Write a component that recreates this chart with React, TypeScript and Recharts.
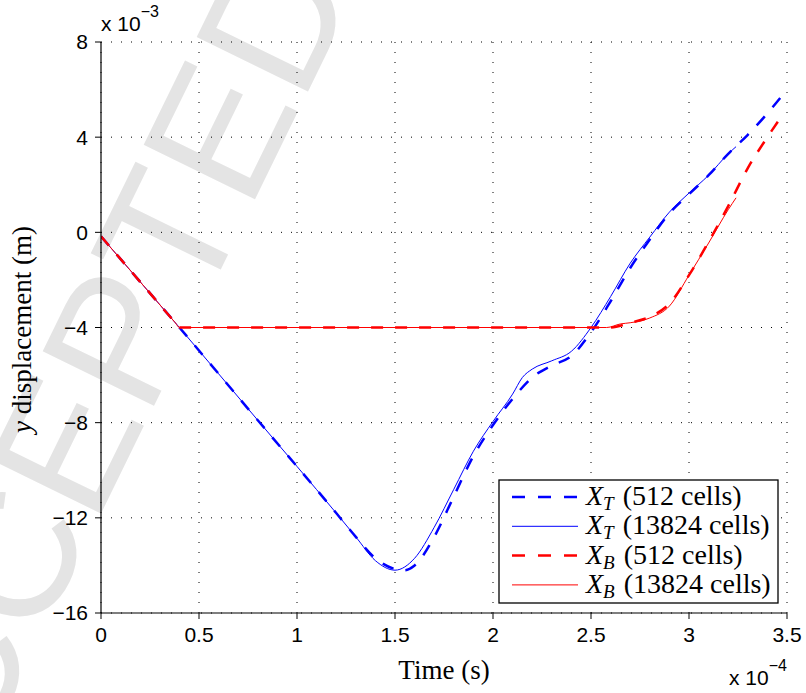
import { LineChart, Line, XAxis, YAxis, CartesianGrid, Legend } from 'recharts';

// time in units of 1e-4 s, displacement in units of 1e-3 m
const tT512 = [0, 0.2, 0.4, 0.8, 1.2, 1.3, 1.4, 1.5, 1.55, 1.6, 1.7, 1.8, 1.9, 2.0, 2.1, 2.2, 2.3, 2.4, 2.5, 2.6, 2.7, 2.8, 2.9, 3.0, 3.1, 3.2, 3.3, 3.4, 3.5];
const yT512 = [-0.17, -2.08, -4.0, -7.9, -11.8, -12.8, -13.7, -14.15, -14.2, -14.0, -12.8, -11.1, -9.4, -8.1, -7.0, -6.1, -5.6, -5.2, -4.2, -2.9, -1.5, -0.3, 0.8, 1.6, 2.4, 3.3, 4.1, 5.0, 6.0];

const tT13824 = [0, 0.2, 0.4, 0.8, 1.2, 1.3, 1.4, 1.5, 1.6, 1.7, 1.8, 1.9, 2.0, 2.1, 2.15, 2.2, 2.3, 2.4, 2.5, 2.6, 2.7, 2.8, 2.9, 3.0, 3.1, 3.2, 3.24];
const yT13824 = [-0.17, -2.08, -4.0, -7.9, -11.8, -12.8, -13.8, -14.2, -13.7, -12.4, -10.8, -9.2, -7.95, -6.8, -6.1, -5.75, -5.4, -5.0, -4.0, -2.7, -1.3, -0.2, 0.85, 1.65, 2.4, 3.3, 3.6];

const tB512 = [0, 0.2, 0.38, 0.4, 0.42, 1.0, 2.0, 2.6, 2.7, 2.8, 2.9, 3.0, 3.1, 3.2, 3.3, 3.4, 3.47];
const yB512 = [-0.17, -2.08, -3.81, -4.0, -4.0, -4.0, -4.0, -4.0, -3.8, -3.55, -3.0, -1.8, -0.4, 1.1, 2.7, 4.0, 4.85];

const tB13824 = [0, 0.2, 0.38, 0.4, 0.42, 1.0, 2.0, 2.58, 2.65, 2.7, 2.8, 2.9, 3.0, 3.1, 3.2, 3.24];
const yB13824 = [-0.17, -2.08, -3.81, -4.0, -4.0, -4.0, -4.0, -4.0, -3.85, -3.8, -3.6, -3.1, -1.8, -0.45, 0.95, 1.45];

const xTicks = [0, 0.5, 1, 1.5, 2, 2.5, 3, 3.5];
const yTicks = [-16, -12, -8, -4, 0, 4, 8];

const toPoints = (ts: number[], ys: number[]) => ts.map((t, i) => ({ t, y: ys[i] }));

const series = [
  { key: 'T512', sub: 'T', cells: '512', color: '#0000ff', dashed: true, data: toPoints(tT512, yT512) },
  { key: 'T13824', sub: 'T', cells: '13824', color: '#0000ff', dashed: false, data: toPoints(tT13824, yT13824) },
  { key: 'B512', sub: 'B', cells: '512', color: '#ff0000', dashed: true, data: toPoints(tB512, yB512) },
  { key: 'B13824', sub: 'B', cells: '13824', color: '#ff0000', dashed: false, data: toPoints(tB13824, yB13824) },
];

const SANS = 'Liberation Sans, Arial, sans-serif';
const SERIF = 'Liberation Serif, Times New Roman, serif';

const fmtY = (v: number) => (v < 0 ? '\u2212' + Math.abs(v) : String(v));

function LegendBox() {
  return (
    <svg width={281} height={125}>
      <rect x={1} y={1} width={279} height={123} fill="#fff" stroke="#000" strokeWidth={1.3} />
      {series.map((s, i) => {
        const cy = 18 + i * 29.3;
        return (
          <g key={s.key}>
            <line
              x1={14} x2={80} y1={cy} y2={cy}
              stroke={s.color}
              strokeWidth={s.dashed ? 2.5 : 1}
              strokeDasharray={s.dashed ? '13 13' : undefined}
            />
            <text x={88} y={cy + 8} fontFamily={SERIF} fontSize={28} fill="#000">
              <tspan fontStyle="italic">X</tspan>
              <tspan fontStyle="italic" fontSize={19} dy={5}>{s.sub}</tspan>
              <tspan dy={-5} dx={9}>{`(${s.cells} cells)`}</tspan>
            </text>
          </g>
        );
      })}
    </svg>
  );
}

function XLabel({ viewBox }: any) {
  const { x, y, width } = viewBox;
  return (
    <g>
      <text x={x + width / 2} y={y + 66} textAnchor="middle" fontFamily={SERIF} fontSize={27} fill="#000">
        Time (s)
      </text>
      <text x={x + width - 58} y={y + 72} fontFamily={SANS} fontSize={21} fill="#000">
        x 10<tspan dy={-14} fontSize={16}>{'\u22124'}</tspan>
      </text>
    </g>
  );
}

function YLabel({ viewBox }: any) {
  const { y, width, height } = viewBox;
  const cy = y + height / 2 + 2;
  return (
    <g>
      <text
        x={31} y={cy}
        transform={`rotate(-90, 31, ${cy})`}
        textAnchor="middle"
        fontFamily={SERIF}
        fontSize={27}
        fill="#000"
      >
        <tspan fontStyle="italic">y</tspan> displacement (m)
      </text>
      <text x={width} y={y - 11} fontFamily={SANS} fontSize={21} fill="#000">
        x 10<tspan dy={-14} fontSize={16}>{'\u22123'}</tspan>
      </text>
    </g>
  );
}

export default function App() {
  return (
    <div style={{ position: 'absolute', left: 0, top: 0, width: 806, height: 693, background: '#fff', overflow: 'hidden' }}>
      {/* watermark */}
      <svg width={806} height={693} style={{ position: 'absolute', left: 0, top: 0 }}>
        <text
          transform="translate(143,428) rotate(-63.9)"
          textAnchor="middle"
          fontFamily={SANS}
          fontSize={180}
          fill="#e4e4e4"
        >
          ACCEPTED
        </text>
      </svg>
      <div style={{ position: 'absolute', left: 0, top: 0 }}>
        <LineChart width={806} height={693} margin={{ top: 42, right: 19, bottom: 0, left: 0 }}>
          <CartesianGrid stroke="#000" strokeDasharray="1 9" strokeWidth={1} />
          <XAxis
            type="number"
            dataKey="t"
            domain={[0, 3.5]}
            ticks={xTicks}
            height={80}
            tickSize={6}
            tickMargin={8}
            axisLine={{ stroke: '#000', strokeWidth: 1.2 }}
            tickLine={{ stroke: '#000' }}
            tick={{ fill: '#000', fontFamily: SANS, fontSize: 21 }}
            label={<XLabel />}
            allowDataOverflow
          />
          <YAxis
            type="number"
            dataKey="y"
            domain={[-16, 8]}
            ticks={yTicks}
            width={101}
            tickSize={6}
            tickMargin={7}
            tickFormatter={fmtY}
            axisLine={{ stroke: '#000', strokeWidth: 1.2 }}
            tickLine={{ stroke: '#000' }}
            tick={{ fill: '#000', fontFamily: SANS, fontSize: 21 }}
            label={<YLabel />}
            allowDataOverflow
          />
          <Legend
            layout="vertical"
            align="center"
            verticalAlign="middle"
            wrapperStyle={{ left: 498, top: 479, width: 281, height: 125 }}
            content={() => <LegendBox />}
          />
          {series.map((s) => (
            <Line
              key={s.key}
              data={s.data}
              dataKey="y"
              type="monotone"
              stroke={s.color}
              strokeWidth={s.dashed ? 2.5 : 1}
              strokeDasharray={s.dashed ? '12 12' : undefined}
              dot={false}
              activeDot={false}
              isAnimationActive={false}
            />
          ))}
        </LineChart>
      </div>
    </div>
  );
}
